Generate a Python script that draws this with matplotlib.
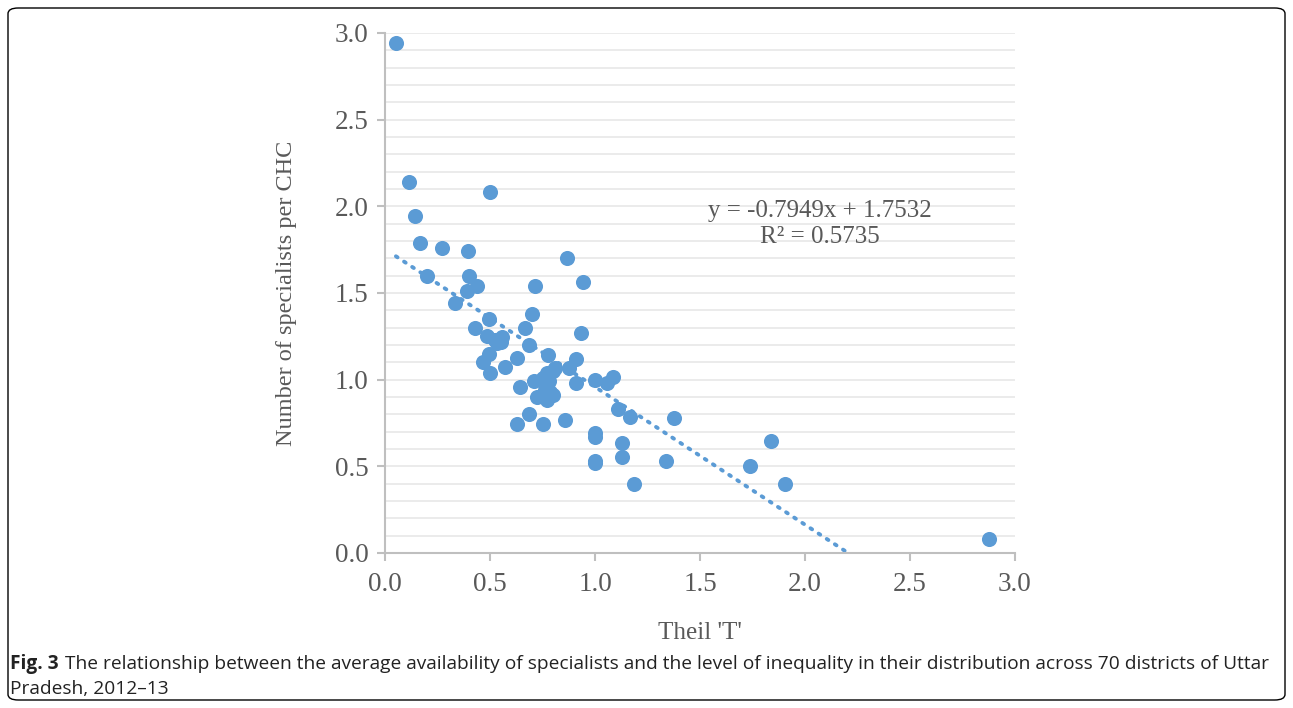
import numpy as np
import matplotlib
matplotlib.use("Agg")
import matplotlib.pyplot as plt
from matplotlib.patches import FancyBboxPatch
from matplotlib.ticker import MultipleLocator

# Theil 'T' vs specialists per CHC, 70 districts
theil = [0.052, 0.114, 0.143, 0.167, 0.271, 0.395, 0.500, 0.200, 0.400, 0.437,
         0.390, 0.333, 0.714, 0.943, 0.867, 0.495, 0.430, 0.700, 0.667, 0.933,
         0.486, 0.524, 0.557, 0.533, 0.686, 0.495, 0.628, 0.467, 0.571, 0.500,
         0.776, 0.910, 0.810, 0.876, 0.771, 0.710, 0.752, 1.000, 1.057, 1.086,
         0.910, 0.643, 0.771, 0.786, 0.800, 0.724, 0.771, 1.110, 1.165, 1.375,
         0.688, 0.628, 0.752, 0.859, 1.000, 1.000, 1.128, 1.128, 1.000, 1.000,
         1.336, 1.184, 1.738, 1.836, 1.904, 2.876, 0.780, 0.760, 0.550, 0.800]
specialists = [2.94, 2.14, 1.945, 1.79, 1.76, 1.74, 2.08, 1.60, 1.60, 1.54,
               1.51, 1.44, 1.54, 1.565, 1.70, 1.35, 1.30, 1.38, 1.30, 1.27,
               1.25, 1.23, 1.245, 1.21, 1.20, 1.15, 1.125, 1.10, 1.075, 1.04,
               1.14, 1.12, 1.07, 1.07, 1.04, 0.99, 1.01, 1.00, 0.98, 1.015,
               0.98, 0.96, 0.96, 0.93, 0.91, 0.90, 0.88, 0.83, 0.785, 0.78,
               0.80, 0.745, 0.745, 0.77, 0.69, 0.67, 0.633, 0.552, 0.53, 0.52,
               0.531, 0.40, 0.504, 0.644, 0.40, 0.083, 0.99, 0.94, 1.22, 1.05]

slope, intercept, r2 = -0.7949, 1.7532, 0.5735

blue = "#5B9BD5"
gray_txt = "#595959"
serif = "Liberation Serif"

fig = plt.figure(figsize=(12.93, 7.08), dpi=100)
ax = fig.add_axes([385 / 1293, 1 - 553 / 708, 630 / 1293, 520 / 708])

ax.scatter(theil, specialists, s=118, color=blue, zorder=3, clip_on=False,
           linewidths=0)

# linear trendline, clipped where it hits y = 0
x0 = min(theil)
x1 = -intercept / slope
xs = np.array([x0, x1])
ax.plot(xs, slope * xs + intercept, color=blue, lw=2.8,
        linestyle=(0, (0.5, 2.0)), dash_capstyle="round", zorder=2)

ax.set_xlim(0, 3)
ax.set_ylim(0, 3)
ax.xaxis.set_major_locator(MultipleLocator(0.5))
ax.yaxis.set_major_locator(MultipleLocator(0.5))
ax.yaxis.set_minor_locator(MultipleLocator(0.1))
ax.xaxis.set_major_formatter(plt.FormatStrFormatter("%.1f"))
ax.yaxis.set_major_formatter(plt.FormatStrFormatter("%.1f"))
ax.grid(axis="y", which="both", color="#EBEBEB", lw=1.4, zorder=0)
ax.set_axisbelow(True)

for s in ["top", "right"]:
    ax.spines[s].set_visible(False)
for s in ["left", "bottom"]:
    ax.spines[s].set_color("#BFBFBF")
    ax.spines[s].set_linewidth(1.5)
ax.tick_params(which="major", length=6, width=1.5, color="#BFBFBF",
               labelsize=19.5, labelcolor=gray_txt, pad=6)
ax.tick_params(axis="x", pad=8)
ax.tick_params(which="minor", length=0)
for lab in ax.get_xticklabels() + ax.get_yticklabels():
    lab.set_family(serif)

ax.set_xlabel("Theil 'T'", family=serif, fontsize=18, color=gray_txt,
              labelpad=18)
ax.set_ylabel("Number of specialists per CHC", family=serif, fontsize=17.5,
              color=gray_txt, labelpad=27)

ax.text(2.07, 1.90, f"y = {slope}x + {intercept}\nR\u00b2 = {r2}",
        family=serif, fontsize=18, color=gray_txt, ha="center", va="center",
        multialignment="center", linespacing=1.25)

# border box and caption
fig.patches.append(FancyBboxPatch((8 / 1293, 8 / 708), 1277 / 1293, 692 / 708,
                                  boxstyle="round,pad=0,rounding_size=0.008",
                                  transform=fig.transFigure, fill=False,
                                  ec="black", lw=1.0))

cap_size = 13.8
t_fig = fig.text(10 / 1293, 1 - 669 / 708, "Fig. 3", family="Open Sans",
                 fontweight="bold", fontsize=cap_size, color="#222222")
renderer = fig.canvas.get_renderer()
bb = t_fig.get_window_extent(renderer)
fig.text((bb.x1 + 6) / 1293, 1 - 669 / 708,
         "The relationship between the average availability of specialists and the "
         "level of inequality in their distribution across 70 districts of Uttar",
         family="Open Sans", fontsize=cap_size, color="#222222")
fig.text(10 / 1293, 1 - 694 / 708, "Pradesh, 2012\u201313", family="Open Sans",
         fontsize=cap_size, color="#222222")

fig.savefig("out.png", dpi=100)
